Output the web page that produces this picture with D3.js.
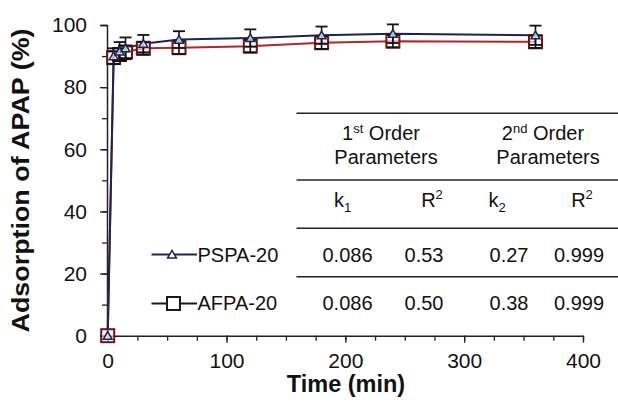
<!DOCTYPE html>
<html><head><meta charset="utf-8">
<script src="https://cdn.jsdelivr.net/npm/d3@7"></script>
<style>body{margin:0;background:#fff}svg{display:block}text{font-family:"Liberation Sans",Arial,sans-serif;fill:#111}</style>
</head><body><svg id="c" width="618" height="410"></svg>
<script>
const times = [0, 5, 10, 15, 30, 60, 120, 180, 240, 360];
const pspa = [0, 90, 91.5, 92.5, 94, 95.3, 95.8, 96.7, 97.2, 96.7];
const pspaErr = [0, 2.5, 3, 3.5, 2.8, 2.7, 2.8, 2.8, 3, 3.1];
const afpa = [0, 89.5, 90.5, 91.3, 92.5, 92.7, 93.2, 94.3, 94.8, 94.6];
const afpaErr = [0, 2, 2, 2, 2, 2, 2, 2, 2, 2];
const xTicks = [0, 100, 200, 300, 400];
const yTicks = [0, 20, 40, 60, 80, 100];
const seriesNames = ["PSPA-20", "AFPA-20"];
const headGroups = [["1", "st", " Order"], ["2", "nd", " Order"]];
const paramHeads = [["k", "1", "sub"], ["R", "2", "sup"], ["k", "2", "sub"], ["R", "2", "sup"]];
const tableRows = [["0.086", "0.53", "0.27", "0.999"], ["0.086", "0.50", "0.38", "0.999"]];

const svg = d3.select("#c");
const x = d3.scaleLinear().domain([0, 400]).range([107.7, 583]);
const y = d3.scaleLinear().domain([0, 100]).range([335.7, 25]);
const navy = "#1c2452", red = "#b3262b", sqc = "#6e1414";

// axes
const gx = svg.append("g").attr("transform", `translate(0,${y(0)})`);
gx.call(d3.axisBottom(x).tickValues(d3.range(0, 401, 25)).tickSize(5).tickFormat(""));
gx.call(g => g.selectAll(".tick line").attr("stroke", "#222").attr("stroke-width", 1.3));
gx.select(".domain").remove();
gx.append("g").call(d3.axisBottom(x).tickValues(xTicks).tickSize(7).tickSizeOuter(0).tickPadding(10)
  .tickFormat(d3.format("d")))
  .call(g => { g.select(".domain").attr("stroke", "#222").attr("stroke-width", 1.5);
    g.selectAll(".tick line").attr("stroke", "#222").attr("stroke-width", 1.3);
    g.selectAll("text").attr("font-size", 21).attr("fill", "#111").attr("font-family", "Liberation Sans, Arial"); });

const gy = svg.append("g").attr("transform", `translate(${x(0) - 0.7},0)`);
gy.call(d3.axisLeft(y).tickValues(d3.range(0, 101, 10)).tickSize(5).tickFormat(""));
gy.call(g => g.selectAll(".tick line").attr("stroke", "#222").attr("stroke-width", 1.3));
gy.select(".domain").remove();
gy.append("g").call(d3.axisLeft(y).tickValues(yTicks).tickSize(7).tickSizeOuter(7).tickPadding(13))
  .call(g => { g.select(".domain").attr("stroke", "#222").attr("stroke-width", 1.5);
    g.selectAll(".tick line").attr("stroke", "#222").attr("stroke-width", 1.3);
    g.selectAll("text").attr("font-size", 21).attr("fill", "#111").attr("font-family", "Liberation Sans, Arial"); });

// axis titles
svg.append("text").attr("x", 346).attr("y", 392).attr("text-anchor", "middle")
  .attr("font-size", 23.5).attr("font-weight", "bold").text("Time (min)");
svg.append("text").attr("transform", "translate(29,180.5) rotate(-90)").attr("text-anchor", "middle")
  .attr("font-size", 23).attr("font-weight", "bold")
  .attr("textLength", 304).attr("lengthAdjust", "spacingAndGlyphs").text("Adsorption of APAP (%)");

// lines
const line = d3.line().x(d => x(d[0])).y(d => y(d[1]));
const pP = times.map((t, i) => [t, pspa[i]]);
const pA = times.map((t, i) => [t, afpa[i]]);
svg.append("path").attr("d", line(pA)).attr("fill", "none").attr("stroke", red).attr("stroke-width", 2);
svg.append("path").attr("d", line(pP)).attr("fill", "none").attr("stroke", navy).attr("stroke-width", 2);

// squares
svg.selectAll(".sq").data(pA).join("rect").attr("class", "sq")
  .attr("x", d => x(d[0]) - 6.5).attr("y", d => y(d[1]) - 6.5).attr("width", 13).attr("height", 13)
  .attr("fill", "rgba(255,255,255,0.6)").attr("stroke", sqc).attr("stroke-width", 2);

// error bars
function errBars(vals, errs) {
  const g = svg.append("g");
  times.forEach((t, i) => {
    if (!errs[i]) return;
    const cx = x(t), y1 = y(vals[i] + errs[i]), y2 = y(vals[i] - errs[i]);
    g.append("line").attr("x1", cx).attr("x2", cx).attr("y1", y1).attr("y2", y2).attr("stroke", "#111").attr("stroke-width", 1.6);
    [y1, y2].forEach(yy => g.append("line").attr("x1", cx - 6).attr("x2", cx + 6).attr("y1", yy).attr("y2", yy).attr("stroke", "#111").attr("stroke-width", 1.8));
  });
}
errBars(afpa, afpaErr);
errBars(pspa, pspaErr);

// triangles
const tri = d3.symbol().type(d3.symbolTriangle).size(34);
svg.selectAll(".tr").data(pP).join("path").attr("class", "tr")
  .attr("transform", d => `translate(${x(d[0])},${y(d[1]) + 1})`).attr("d", tri)
  .attr("fill", "rgba(230,235,255,0.8)").attr("stroke", navy).attr("stroke-width", 1.5);

// table rules
[113.3, 180, 228.3, 276.7].forEach(yy => svg.append("line").attr("x1", 296.5).attr("x2", 618)
  .attr("y1", yy).attr("y2", yy).attr("stroke", "#222").attr("stroke-width", 1.6));

const headCx = [386, 548];
headGroups.forEach((h, i) => {
  const t = svg.append("text").attr("x", headCx[i] - 5).attr("y", 140).attr("text-anchor", "middle").attr("font-size", 20);
  t.append("tspan").text(h[0]);
  t.append("tspan").attr("font-size", 13).attr("dy", -7).text(h[1]);
  t.append("tspan").attr("dy", 7).text(h[2]);
  svg.append("text").attr("x", headCx[i]).attr("y", 163.5).attr("text-anchor", "middle").attr("font-size", 20).text("Parameters");
});
const paramCx = [342.5, 432, 497, 582];
paramHeads.forEach((p, i) => {
  const t = svg.append("text").attr("x", paramCx[i]).attr("y", 207).attr("text-anchor", "middle").attr("font-size", 20);
  t.append("tspan").text(p[0]);
  const s = p[2] === "sub" ? 5 : -8;
  t.append("tspan").attr("font-size", 13).attr("dy", s).text(p[1]);
});
const dataCx = [347.5, 424, 509, 579];
const rowBase = [261.7, 310];
tableRows.forEach((r, ri) => r.forEach((v, ci) =>
  svg.append("text").attr("x", dataCx[ci]).attr("y", rowBase[ri]).attr("text-anchor", "middle").attr("font-size", 20).text(v)));

// legend
const legY = [254.5, 303.5];
seriesNames.forEach((n, i) => {
  svg.append("line").attr("x1", 151.5).attr("x2", 197).attr("y1", legY[i]).attr("y2", legY[i])
    .attr("stroke", i === 0 ? navy : "#1a1a1a").attr("stroke-width", 2);
  if (i === 0) {
    svg.append("path").attr("transform", `translate(172,${legY[i] + 1})`).attr("d", tri)
      .attr("fill", "#fff").attr("stroke", navy).attr("stroke-width", 1.5);
  } else {
    svg.append("rect").attr("x", 173.5 - 6.5).attr("y", legY[i] - 6.5).attr("width", 13).attr("height", 13)
      .attr("fill", "#fff").attr("stroke", "#1a1a1a").attr("stroke-width", 2);
  }
  svg.append("text").attr("x", 197.5).attr("y", rowBase[i]).attr("font-size", 20).text(n);
});
</script></body></html>
